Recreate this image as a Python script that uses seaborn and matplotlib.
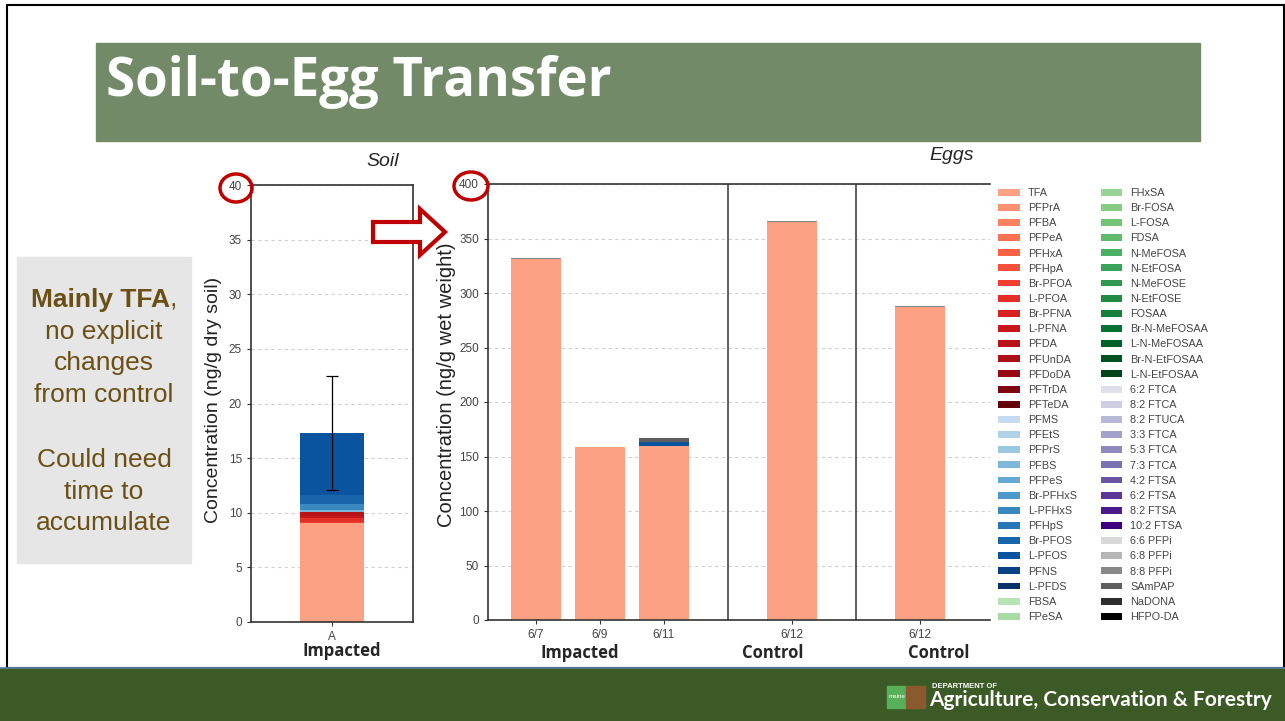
import matplotlib
matplotlib.use("Agg")
import matplotlib.pyplot as plt
import numpy as np
import seaborn as sns
from matplotlib.patches import Rectangle, Ellipse, Polygon, Patch

# ---- data ----
pfca = ["TFA", "PFPrA", "PFBA", "PFPeA", "PFHxA", "PFHpA", "Br-PFOA", "L-PFOA",
        "Br-PFNA", "L-PFNA", "PFDA", "PFUnDA", "PFDoDA", "PFTrDA", "PFTeDA"]
pfsa = ["PFMS", "PFEtS", "PFPrS", "PFBS", "PFPeS", "Br-PFHxS", "L-PFHxS", "PFHpS",
        "Br-PFOS", "L-PFOS", "PFNS", "L-PFDS"]
fosa = ["FBSA", "FPeSA", "FHxSA", "Br-FOSA", "L-FOSA", "FDSA", "N-MeFOSA", "N-EtFOSA",
        "N-MeFOSE", "N-EtFOSE", "FOSAA", "Br-N-MeFOSAA", "L-N-MeFOSAA",
        "Br-N-EtFOSAA", "L-N-EtFOSAA"]
ftca = ["6:2 FTCA", "8:2 FTCA", "8:2 FTUCA", "3:3 FTCA", "5:3 FTCA", "7:3 FTCA",
        "4:2 FTSA", "6:2 FTSA", "8:2 FTSA", "10:2 FTSA"]
other = ["6:6 PFPi", "6:8 PFPi", "8:8 PFPi", "SAmPAP", "NaDONA", "HFPO-DA"]

soil_site = ["A"]
soil_compounds = ["TFA", "Br-PFOA", "L-PFOA", "L-PFNA", "PFDA", "PFBS",
                  "L-PFHxS", "Br-PFOS", "L-PFOS"]
soil_values = [9.05, 0.1, 0.35, 0.2, 0.4, 0.15, 0.55, 0.8, 5.7]
soil_err = 5.2

egg_dates = ["6/7", "6/9", "6/11", "6/12", "6/12"]
egg_groups = ["Impacted", "Control", "Control"]
egg_compounds = ["TFA", "L-PFOS", "8:8 PFPi", "SAmPAP"]
egg_tfa = [331, 159, 160, 365, 287]
egg_lpfos = [0, 0, 3, 0, 0]
egg_pfpi = [1.5, 0, 0, 1.5, 1.2]
egg_sampap = [0, 0, 4, 0, 0]

# ---- layout ----
W, H = 1285, 721
bar_x = [0, 1, 2, 4, 6]
sep_x = [3, 5]

def fx(x):
    return x / W

def fy(y):
    return 1 - y / H

sns.set_style("white")
plt.rcParams["font.family"] = ["Liberation Sans", "DejaVu Sans"]

palette = {}
for names, cmap, lo, hi in [(pfca, "Reds", 0.33, 1.0), (pfsa, "Blues", 0.25, 1.0),
                            (fosa, "Greens", 0.3, 1.0), (ftca, "Purples", 0.22, 1.0),
                            (other, "Greys", 0.25, 1.0)]:
    cols = plt.get_cmap(cmap)(np.linspace(lo, hi, len(names)))
    for n, c in zip(names, cols):
        palette[n] = c

fig = plt.figure(figsize=(W / 100, H / 100), dpi=100)
fig.patch.set_facecolor("white")

# slide frame, title band, footer
fig.patches.append(Rectangle((fx(7), fy(668)), fx(1277), 663 / H, transform=fig.transFigure,
                             fill=False, ec="black", lw=1.5))
fig.patches.append(Rectangle((fx(96), fy(141)), fx(1104), 98 / H, transform=fig.transFigure,
                             color="#728a68"))
fig.text(fx(106), fy(82), "Soil-to-Egg Transfer", color="white", fontsize=38,
         fontweight="bold", family="Open Sans", va="center", ha="left")
fig.patches.append(Rectangle((0, 0), 1, 53 / H, transform=fig.transFigure, color="#3c5a25"))
fig.lines.append(plt.Line2D([0, 1], [fy(668), fy(668)], transform=fig.transFigure,
                            color="#5d7fae", lw=1.2))
fig.patches.append(Rectangle((fx(887), fy(708)), fx(19), 22 / H, transform=fig.transFigure,
                             color="#58b05a"))
fig.patches.append(Rectangle((fx(906), fy(708)), fx(19), 22 / H, transform=fig.transFigure,
                             color="#8a5a2e"))
fig.text(fx(897), fy(697), "maine", color="white", fontsize=4.5, ha="center", va="center")
fig.text(fx(932), fy(687), "DEPARTMENT OF", color="white", fontsize=5.5, fontweight="bold",
         ha="left", va="center")
fig.text(fx(929), fy(700), "Agriculture, Conservation & Forestry", color="white",
         fontsize=15, fontweight="bold", family="Lato", ha="left", va="center")

# left note box
fig.patches.append(Rectangle((fx(17), fy(563)), fx(174), 306 / H, transform=fig.transFigure,
                             color="#e6e6e6"))
brown = "#6b4f14"
fig.text(fx(170), fy(300), "Mainly TFA", color=brown, fontsize=19, fontweight="bold",
         ha="right", va="center")
fig.text(fx(170), fy(300), ",", color=brown, fontsize=19, ha="left", va="center")
for txt, y in [("no explicit", 332), ("changes", 363), ("from control", 395),
               ("Could need", 460), ("time to", 492), ("accumulate", 523)]:
    fig.text(fx(104), fy(y), txt, color=brown, fontsize=19, ha="center", va="center")

def style_axes(ax):
    ax.set_facecolor("white")
    ax.set_axisbelow(True)
    ax.yaxis.grid(True, linestyle=(0, (3, 3)), color="#cfcfcf", lw=0.8)
    ax.xaxis.grid(False)
    for s in ax.spines.values():
        s.set_color("#333333")
        s.set_linewidth(1.2)
    ax.tick_params(axis="both", labelsize=8.5, labelcolor="#444444", length=3,
                   color="#333333", left=True, bottom=True)
    ax.set_xlabel("")
    ax.set_ylabel("")

# ---- soil panel ----
ax1 = fig.add_axes([fx(251), fy(622), fx(162), 437 / H])
soil_cum = np.cumsum(soil_values)
for i in range(len(soil_compounds) - 1, -1, -1):
    sns.barplot(x=soil_site, y=[soil_cum[i]], color=palette[soil_compounds[i]],
                width=0.4, linewidth=0, saturation=1, ax=ax1)
ax1.errorbar(0, soil_cum[-1], yerr=soil_err, color="black", lw=0.9, capsize=4,
             capthick=0.9)
ax1.set_xlim(-0.5, 0.5)
ax1.set_ylim(0, 40)
ax1.set_yticks(np.arange(0, 41, 5))
style_axes(ax1)
fig.text(fx(214), fy(400), "Concentration (ng/g dry soil)", rotation=90, fontsize=14,
         color="#222222", ha="center", va="center")
fig.text(fx(383), fy(162), "Soil", fontsize=14, style="italic", ha="center", va="center")
fig.text(fx(342), fy(651), "Impacted", fontsize=12, fontweight="bold", family="Open Sans",
         ha="center", va="center")

# ---- egg panel ----
ax2 = fig.add_axes([fx(488), fy(620), fx(502), 436 / H])
egg_layers = np.array([egg_tfa, egg_lpfos, egg_pfpi, egg_sampap], dtype=float)
egg_cum = np.cumsum(egg_layers, axis=0)
for i in range(len(egg_compounds) - 1, -1, -1):
    sns.barplot(x=bar_x, y=egg_cum[i], native_scale=True, color=palette[egg_compounds[i]],
                width=0.78, linewidth=0, saturation=1, ax=ax2)
for s in sep_x:
    ax2.axvline(s, color="#444444", lw=1.2)
ax2.set_xlim(-0.75, 7.1)
ax2.set_ylim(0, 400)
ax2.set_yticks(np.arange(0, 401, 50))
ax2.set_xticks(bar_x)
ax2.set_xticklabels(egg_dates)
ax2.set_xticks(sep_x, minor=True)
style_axes(ax2)
ax2.tick_params(axis="x", which="minor", length=6, color="#333333")
ax2.spines["right"].set_visible(False)
fig.text(fx(447), fy(385), "Concentration (ng/g wet weight)", rotation=90, fontsize=14.5,
         color="#222222", ha="center", va="center")
fig.text(fx(952), fy(156), "Eggs", fontsize=14, style="italic", ha="center", va="center")
for txt, x in zip(egg_groups, [580, 773, 939]):
    fig.text(fx(x), fy(653), txt, fontsize=12, fontweight="bold", family="Open Sans",
             ha="center", va="center")

# ---- legend ----
all_names = pfca + pfsa + fosa + ftca + other
handles = [Patch(facecolor=palette[n], edgecolor="none", label=n) for n in all_names]
fig.legend(handles=handles, ncol=2, loc="upper left", bbox_to_anchor=(fx(998), fy(188)),
           frameon=False, fontsize=7.8, labelcolor="#444444", handlelength=2.0,
           handleheight=0.6, labelspacing=0.475, columnspacing=2.2, handletextpad=0.75,
           borderaxespad=0, borderpad=0)

# ---- annotations ----
red = "#c00000"
fig.patches.append(Ellipse((fx(236), fy(188)), fx(32), 28 / H, transform=fig.transFigure,
                           fill=False, ec=red, lw=2.5))
fig.patches.append(Ellipse((fx(471), fy(186)), fx(34), 28 / H, transform=fig.transFigure,
                           fill=False, ec=red, lw=2.5))
arrow_px = [(373, 222), (420, 222), (420, 209), (445, 232), (420, 255), (420, 242), (373, 242)]
fig.patches.append(Polygon([(fx(x), fy(y)) for x, y in arrow_px], closed=True,
                           transform=fig.transFigure, fc="white", ec=red, lw=3))

fig.savefig("out.png", dpi=100)
